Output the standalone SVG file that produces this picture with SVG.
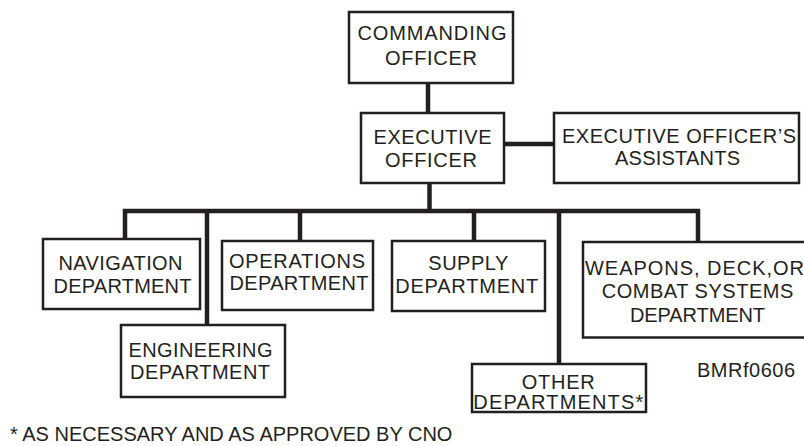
<svg xmlns="http://www.w3.org/2000/svg" width="804" height="446" viewBox="0 0 804 446">
<style>
.box{fill:#fff;stroke:#231f20;stroke-width:2.5}
.t{font-family:"Liberation Sans",Arial,sans-serif;font-size:20px;fill:#231f20;text-anchor:middle}
.c{fill:none;stroke:#231f20;stroke-width:4.5;stroke-linejoin:miter;stroke-linecap:butt}
</style>
<rect width="804" height="446" fill="#fff"/>
<g id="connectors">
<path class="c" d="M428 83V113"/>
<path class="c" d="M504 144H554"/>
<path class="c" d="M429.5 183V211"/>
<path class="c" d="M125 239V211H698V242"/>
<path class="c" d="M207 211V325"/>
<path class="c" d="M300 211V241"/>
<path class="c" d="M474 211V241"/>
<path class="c" d="M559 211V364"/>
</g>
<g id="commanding-officer">
<rect class="box" x="349" y="12" width="164" height="71"/>
<text class="t" x="432" y="40" textLength="149" lengthAdjust="spacing">COMMANDING</text>
<text class="t" x="431" y="65" textLength="92" lengthAdjust="spacing">OFFICER</text>
</g>
<g id="executive-officer">
<rect class="box" x="361" y="113" width="143" height="70"/>
<text class="t" x="432.5" y="144" textLength="118" lengthAdjust="spacing">EXECUTIVE</text>
<text class="t" x="431" y="167" textLength="92" lengthAdjust="spacing">OFFICER</text>
</g>
<g id="xo-assistants">
<rect class="box" x="554" y="113" width="245" height="70"/>
<text class="t" x="679" y="143" textLength="234" lengthAdjust="spacing">EXECUTIVE OFFICER’S</text>
<text class="t" x="677.5" y="165" textLength="125" lengthAdjust="spacing">ASSISTANTS</text>
</g>
<g id="navigation">
<rect class="box" x="43" y="239" width="157" height="70"/>
<text class="t" x="120.5" y="270" textLength="124" lengthAdjust="spacing">NAVIGATION</text>
<text class="t" x="122.5" y="293" textLength="138" lengthAdjust="spacing">DEPARTMENT</text>
</g>
<g id="engineering">
<rect class="box" x="121" y="325" width="164" height="72"/>
<text class="t" x="200.5" y="356.7" textLength="144" lengthAdjust="spacing">ENGINEERING</text>
<text class="t" x="200" y="379.3" textLength="140" lengthAdjust="spacing">DEPARTMENT</text>
</g>
<g id="operations">
<rect class="box" x="222" y="241" width="151" height="69"/>
<text class="t" x="297" y="268" textLength="136" lengthAdjust="spacing">OPERATIONS</text>
<text class="t" x="299" y="290" textLength="139" lengthAdjust="spacing">DEPARTMENT</text>
</g>
<g id="supply">
<rect class="box" x="392" y="241" width="153" height="70"/>
<text class="t" x="468.3" y="270" textLength="80" lengthAdjust="spacing">SUPPLY</text>
<text class="t" x="466.7" y="292.5" textLength="143" lengthAdjust="spacing">DEPARTMENT</text>
</g>
<g id="other">
<rect class="box" x="472" y="364" width="174" height="48"/>
<text class="t" x="558.3" y="388.5" textLength="73" lengthAdjust="spacing">OTHER</text>
<text class="t" x="558.3" y="409" textLength="170" lengthAdjust="spacing">DEPARTMENTS*</text>
</g>
<g id="weapons">
<rect class="box" x="583" y="242" width="232" height="95.5"/>
<text class="t" x="694.5" y="275" textLength="219" lengthAdjust="spacing">WEAPONS, DECK,OR</text>
<text class="t" x="697.5" y="297.7" textLength="191.6" lengthAdjust="spacing">COMBAT SYSTEMS</text>
<text class="t" x="697.5" y="321.7" textLength="135" lengthAdjust="spacing">DEPARTMENT</text>
</g>
<text class="t" x="746" y="377" textLength="98" lengthAdjust="spacing">BMRf0606</text>
<text class="t" x="10" y="441" style="text-anchor:start">* AS NECESSARY AND AS APPROVED BY CNO</text>
</svg>
